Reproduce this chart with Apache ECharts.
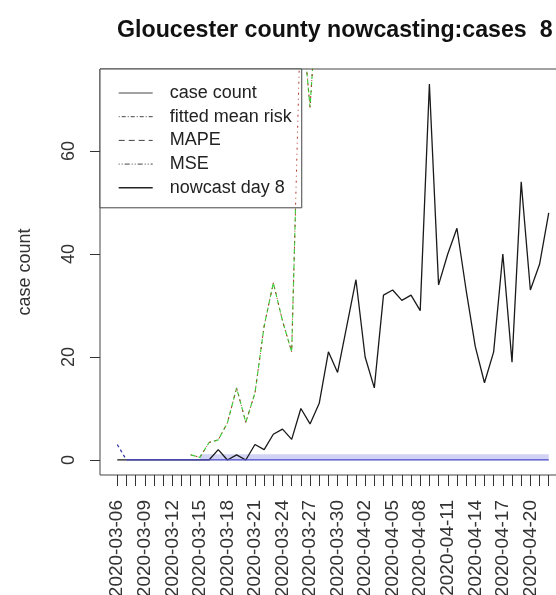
<!DOCTYPE html>
<html>
<head>
<meta charset="utf-8">
<script src="https://cdn.jsdelivr.net/npm/echarts@6/dist/echarts.min.js"></script>
<style>
html,body{margin:0;padding:0;background:#fff;}
#c{width:556px;height:595px;}
</style>
</head>
<body>
<div id="c"></div>
<script>
// ---- data ----
var dates = [
  "2020-03-06","2020-03-07","2020-03-08","2020-03-09","2020-03-10","2020-03-11","2020-03-12","2020-03-13",
  "2020-03-14","2020-03-15","2020-03-16","2020-03-17","2020-03-18","2020-03-19","2020-03-20","2020-03-21",
  "2020-03-22","2020-03-23","2020-03-24","2020-03-25","2020-03-26","2020-03-27","2020-03-28","2020-03-29",
  "2020-03-30","2020-03-31","2020-04-01","2020-04-02","2020-04-03","2020-04-04","2020-04-05","2020-04-06",
  "2020-04-07","2020-04-08","2020-04-09","2020-04-10","2020-04-11","2020-04-12","2020-04-13","2020-04-14",
  "2020-04-15","2020-04-16","2020-04-17","2020-04-18","2020-04-19","2020-04-20","2020-04-21","2020-04-22"
];
var caseCount = [0,0,0,0,0,0,0,0,0,0,0,2,0,1,0,3,2,5,6,4,10,7,11,21,17,26,35,20,14,32,33,31,32,29,73,34,40,45,33,22,15,21,40,19,54,33,38,48];
// fitted mean risk / MAPE (nearly identical curves, leave the plot after 2020-03-28)
var fittedMeanRisk = [null,null,null,null,null,null,null,null,1,0.5,3.4,3.9,7.2,14,7.3,13,26,34.4,27,21,88,68.5,96];
var mape = [null,null,null,null,null,null,null,null,1,0.5,3.4,3.9,7.2,14,7.3,13,26,34.4,27,21,88,68.5,96];
var mse = [3,0];
var nowcast = [null,0,0,0,0,0,0,0,0,0,0,0,0,0,0,0,0,0,0,0,0,0,0,0,0,0,0,0,0,0,0,0,0,0,0,0,0,0,0,0,0,0,0,0,0,0,0,0];
var nowcastUpper = [null,null,null,null,null,null,null,null,null,1.1,1.1,1.1,1.1,1.1,1.1,1.1,1.1,1.1,1.1,1.1,1.1,1.1,1.1,1.1,1.1,1.1,1.1,1.1,1.1,1.1,1.1,1.1,1.1,1.1,1.1,1.1,1.1,1.1,1.1,1.1,1.1,1.1,1.1,1.1,1.1,1.1,1.1,1.1];
var yTicks = [0,20,40,60];
var legendNames = ["case count","fitted mean risk","MAPE","MSE","nowcast day 8"];

function pairs(arr){
  var out = [];
  for (var i=0;i<arr.length;i++){ out.push([i, arr[i]==null?null:arr[i]]); }
  return out;
}
var allIdx = dates.map(function(d,i){return i;});
var labelIdx = allIdx.filter(function(i){return i%3===0;});

var FONT = "Liberation Sans, Arial, sans-serif";
var chart = echarts.init(document.getElementById('c'), null, {renderer:'canvas'});
var option = {
  animation:false,
  backgroundColor:'#fff',
  title:{
    text:'Gloucester county nowcasting:cases  8',
    left:117, top:19, padding:0,
    textStyle:{fontFamily:FONT, fontSize:23.2, fontWeight:'bold', color:'#111'}
  },
  legend:{
    orient:'vertical', left:100, top:69,
    padding:[14,10,10,18],
    backgroundColor:'#fff', borderColor:'#444', borderWidth:1, borderRadius:0,
    itemWidth:34, itemHeight:14, itemGap:3.7,
    itemStyle:{color:'rgba(0,0,0,0)', borderWidth:0, opacity:0},
    selectedMode:false,
    textStyle:{fontFamily:FONT, fontSize:18, color:'#222', lineHeight:20, padding:[0,0,0,12]},
    data:[
      {name:legendNames[0], lineStyle:{color:'#444', width:1, type:'solid'}},
      {name:legendNames[1], lineStyle:{color:'#444', width:1, type:[1,2,4,2]}},
      {name:legendNames[2], lineStyle:{color:'#444', width:1, type:[6,4]}},
      {name:legendNames[3], lineStyle:{color:'#444', width:1, type:[1,2,1,2,5,2]}},
      {name:legendNames[4], lineStyle:{color:'#222', width:1.4, type:'solid'}}
    ]
  },
  grid:{left:100, top:69, width:466, height:406, outerBoundsMode:'none', containLabel:false,
        show:true, borderColor:'#444', borderWidth:1, backgroundColor:'rgba(0,0,0,0)'},
  xAxis:{
    type:'value', min:-1.88, max:48.88,
    axisLine:{show:false, onZero:false},
    splitLine:{show:false},
    axisTick:{show:true, inside:false, length:11, customValues:allIdx, lineStyle:{color:'#333'}},
    axisLabel:{
      customValues:labelIdx, rotate:90, margin:25,
      fontFamily:FONT, fontSize:19, color:'#333',
      formatter:function(v){ return dates[Math.round(v)]; }
    }
  },
  yAxis:{
    type:'value', min:-2.92, max:75.92,
    name:'case count', nameLocation:'middle', nameRotate:90, nameGap:66,
    nameTextStyle:{fontFamily:FONT, fontSize:18, color:'#333'},
    axisLine:{show:false, onZero:false},
    splitLine:{show:false},
    axisTick:{show:true, inside:false, length:10, customValues:yTicks, lineStyle:{color:'#333'}},
    axisLabel:{customValues:yTicks, rotate:90, margin:22, fontFamily:FONT, fontSize:18, color:'#333'}
  },
  series:[
    {name:'nowcast band', type:'line', data:pairs(nowcastUpper), symbol:'none', silent:true,
     lineStyle:{width:0, opacity:0}, areaStyle:{color:'#d2d2f5', opacity:1}, z:1},
    {name:legendNames[0], type:'line', data:pairs(caseCount), symbol:'none', color:'#1a1a1a',
     lineStyle:{color:'#1a1a1a', width:1.3}, z:2},
    {name:legendNames[2], type:'line', data:pairs(mape), symbol:'none', color:'#3ccc3c',
     lineStyle:{color:'#3ccc3c', width:1.2, type:[5,3]}, z:3},
    {name:legendNames[1], type:'line', data:pairs(fittedMeanRisk), symbol:'none', color:'#b03a2a',
     lineStyle:{color:'#b03a2a', width:1, type:[1,4,2,4]}, z:4},
    {name:legendNames[3], type:'line', data:pairs(mse), symbol:'none', color:'#3a3aa8',
     lineStyle:{color:'#3a3aa8', width:1.3, type:[3,3]}, z:5},
    {name:legendNames[4], type:'line', data:pairs(nowcast), symbol:'none', color:'#4848c8',
     lineStyle:{color:'#4848c8', width:1.3}, z:5}
  ]
};
chart.setOption(option);
</script>
</body>
</html>
